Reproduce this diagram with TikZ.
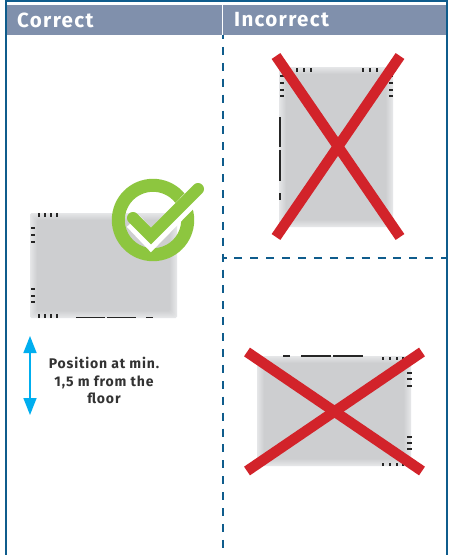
\documentclass[tikz,border=0pt]{standalone}
\usepackage{fontspec}
\setmainfont{Fira Sans}
\newfontfamily\headfont[LetterSpace=6.5]{Fira Sans}
\newfontfamily\captfont[LetterSpace=6]{Fira Sans}
\usetikzlibrary{arrows.meta}
\definecolor{frameblue}{HTML}{0F5C8C}
\definecolor{headblue}{HTML}{8090AC}
\definecolor{crossred}{HTML}{D2232A}
\definecolor{okgreen}{HTML}{8DC63F}
\definecolor{arrowblue}{HTML}{00AEEF}
\definecolor{txt}{HTML}{333333}
\definecolor{panelA}{HTML}{E5E6E8}
\definecolor{panelB}{HTML}{CDCED0}
\newcommand{\panel}[4]{%
  \foreach \k in {0,...,7}{
    \pgfmathsetmacro{\mix}{100*\k/7}
    \fill[panelB!\mix!panelA,rounded corners=1.5pt]
      ({#1+\k},{#2+\k}) rectangle ({#3-\k},{#4-\k});
  }}
\tikzset{
  frameline/.style={draw=frameblue,line width=2.2pt},
  dashline/.style={draw=frameblue,line width=2pt,dash pattern=on 8pt off 7.9pt,dash phase=4pt},
  headtext/.style={text=white,font=\fontsize{20.5}{20.5}\headfont\bfseries,anchor=west,inner sep=0pt},
  crossbar/.style={draw=crossred,line width=10.5pt},
  tick/.style={fill=black!85},
  edgebar/.style={draw=black!85,line width=1.2pt},
  bluearrow/.style={draw=arrowblue,line width=1.5pt,{Triangle[length=17pt,width=13pt]}-{Triangle[length=17pt,width=13pt]}},
  capt/.style={text=txt,font=\fontsize{14}{17.5}\captfont\bfseries,align=center}
}
\begin{document}
\begin{tikzpicture}[x=1pt,y=-1pt]
\useasboundingbox (0,0) rectangle (448,555);
\fill[white] (0,0) rectangle (448,555);
% header
\fill[headblue] (6,4.5) rectangle (446,34.5);
\draw[white,line width=1.2pt] (222.5,4.5) -- (222.5,34.5);
% frame
\coordinate (fa) at (5.7,555);
\coordinate (fb) at (5.7,1.2);
\coordinate (fc) at (447,1.2);
\coordinate (fd) at (447,555);
\draw[frameline] (fa) -- (fb) -- (fc) -- (fd);
% dashed dividers
\coordinate (da) at (222.5,35);
\coordinate (db) at (222.5,555);
\coordinate (dc) at (222.5,258);
\coordinate (dd) at (446,258);
\draw[dashline] (da) -- (db);
\draw[dashline] (dc) -- (dd);
\node[headtext] (hc) at (17,20) {Correct};
\node[headtext] (hi) at (234,20) {Incorrect};

% correct panel
\panel{30}{213}{177}{318}
\foreach \x in {39,45,51,57}{
  \fill[tick] (\x-1.3,213) rectangle (\x+1.3,216.5);
  \fill[tick] (\x-1.3,314) rectangle (\x+1.3,317.5);
}
\foreach \y in {228,235,242,289,296,302}{
  \fill[tick] (30.5,\y-1.2) rectangle (35,\y+1.2);
}
\draw[edgebar] (76,317.5) -- (105,317.5);
\draw[edgebar] (107,317.5) -- (136,317.5);
\draw[edgebar] (146,317.5) -- (153,317.5);
% check badge
\draw[okgreen,line width=13pt] (153,220) circle (34.7);
\draw[white,line width=17pt,line join=miter] (133,221) -- (151,240) -- (199,191);
\draw[okgreen,line width=12pt,line cap=round,line join=miter] (133,218) -- (151,236) -- (198,189);

% arrow and caption
\coordinate (aa) at (30,336);
\coordinate (ab) at (30,415);
\draw[bluearrow] (aa) -- (ab);
\node[capt] (cap) at (104,380.5) {Position at min.\\1,5 m from the\\floor};

% incorrect panel 1
\panel{279}{67}{393}{227}
\foreach \x in {297,304,311,363,370,377}{
  \fill[tick] (\x-1.3,68) rectangle (\x+1.3,71.5);
}
\foreach \y in {76,83,90,96}{
  \fill[tick] (279.5,\y-1.2) rectangle (284,\y+1.2);
  \fill[tick] (389,\y-1.2) rectangle (393,\y+1.2);
}
\draw[edgebar] (280,117) -- (280,147);
\draw[edgebar] (280,150) -- (280,181);
\draw[edgebar] (280,193) -- (280,200);
\draw[crossbar] (276,56) -- (400,237);
\draw[crossbar] (400,56) -- (276,237);

% incorrect panel 2
\panel{257}{356}{411}{466}
\draw[edgebar] (283,356) -- (290,356);
\draw[edgebar] (301,356) -- (331,356);
\draw[edgebar] (333,356) -- (363,356);
\foreach \x in {383,390,397,403}{
  \fill[tick] (\x-1.3,356.5) rectangle (\x+1.3,360);
  \fill[tick] (\x-1.3,462.5) rectangle (\x+1.3,466);
}
\foreach \y in {373,379,386,437,443,449}{
  \fill[tick] (407,\y-1.2) rectangle (411.5,\y+1.2);
}
\draw[crossbar] (247,352) -- (422,471);
\draw[crossbar] (422,352) -- (247,471);
\end{tikzpicture}
\end{document}
